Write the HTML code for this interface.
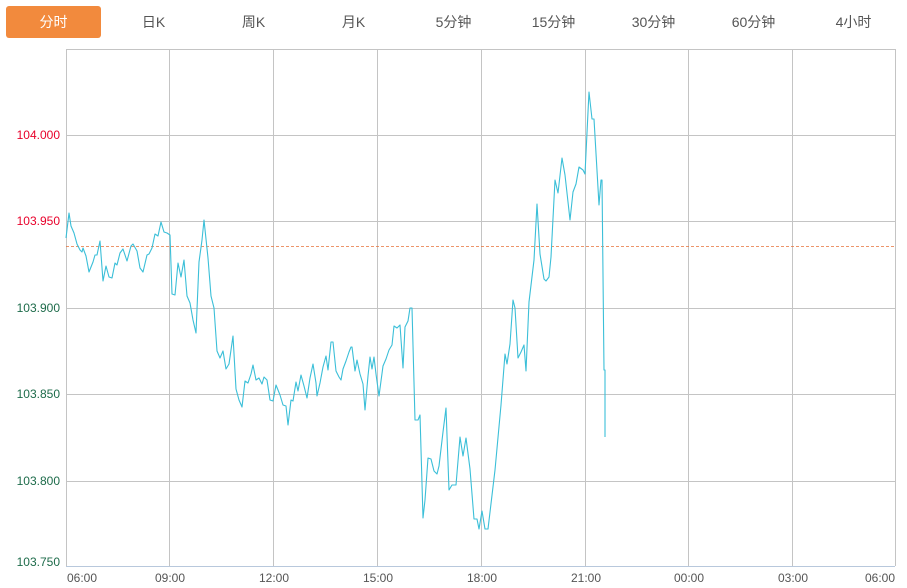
<!DOCTYPE html>
<html><head><meta charset="utf-8"><style>
body{margin:0;background:#fff;width:907px;height:588px;overflow:hidden;font-family:"Liberation Sans","Noto Sans CJK SC",sans-serif}
.tab{position:absolute;top:6px;height:32px;line-height:32px;font-size:14px;color:#555;text-align:center;width:95px}
</style></head><body>
<div class="tab" style="left:6px;background:#f28a3d;color:#fff;border-radius:3px;">分时</div>
<div class="tab" style="left:106px">日K</div>
<div class="tab" style="left:206px">周K</div>
<div class="tab" style="left:306px">月K</div>
<div class="tab" style="left:406px">5分钟</div>
<div class="tab" style="left:506px">15分钟</div>
<div class="tab" style="left:606px">30分钟</div>
<div class="tab" style="left:706px">60分钟</div>
<div class="tab" style="left:806px">4小时</div>
<svg width="907" height="588" style="position:absolute;left:0;top:0" font-family="Liberation Sans, sans-serif" font-size="12">
<g stroke="#c4c4c4" stroke-width="1" fill="none">
<line x1="66.5" y1="49.5" x2="895.5" y2="49.5"/>
<line x1="66" y1="135.5" x2="895" y2="135.5"/>
<line x1="66" y1="221.5" x2="895" y2="221.5"/>
<line x1="66" y1="308.5" x2="895" y2="308.5"/>
<line x1="66" y1="394.5" x2="895" y2="394.5"/>
<line x1="66" y1="481.5" x2="895" y2="481.5"/>
<line x1="66.5" y1="49" x2="66.5" y2="566"/>
<line x1="169.5" y1="49" x2="169.5" y2="566"/>
<line x1="273.5" y1="49" x2="273.5" y2="566"/>
<line x1="377.5" y1="49" x2="377.5" y2="566"/>
<line x1="481.5" y1="49" x2="481.5" y2="566"/>
<line x1="585.5" y1="49" x2="585.5" y2="566"/>
<line x1="688.5" y1="49" x2="688.5" y2="566"/>
<line x1="792.5" y1="49" x2="792.5" y2="566"/>
<line x1="895.5" y1="49" x2="895.5" y2="566"/>
</g>
<line x1="66" y1="566.5" x2="895" y2="566.5" stroke="#b8c8dc"/>
<line x1="66" y1="246.5" x2="895" y2="246.5" stroke="#e8733a" stroke-width="0.8" stroke-dasharray="3,2"/>
<g text-anchor="end" fill="#1d6b4a">
<text x="60" y="139" fill="#e8002a">104.000</text>
<text x="60" y="225" fill="#e8002a">103.950</text>
<text x="60" y="312">103.900</text>
<text x="60" y="398">103.850</text>
<text x="60" y="485">103.800</text>
<text x="60" y="566">103.750</text>
</g>
<g text-anchor="middle" fill="#555">
<text x="82" y="582">06:00</text>
<text x="170" y="582">09:00</text>
<text x="274" y="582">12:00</text>
<text x="378" y="582">15:00</text>
<text x="482" y="582">18:00</text>
<text x="586" y="582">21:00</text>
<text x="689" y="582">00:00</text>
<text x="793" y="582">03:00</text>
<text x="880" y="582">06:00</text>
</g>
<polyline fill="none" stroke="#3bbfd8" stroke-width="1.1" stroke-linejoin="round" points="66,238 69,213 71,226 74,233 77,244 80,250 82,252 83,248 86,256 89,272 93,262 95,255 97,255 100,241 103,281 106,266 109,277 112,278 115,263 117,265 120,253 123,249 127,261 131,246 133,244 137,251 140,268 143,272 147,255 149,254 152,248 155,234 158,236 161,222 164,232 167,233 170,235 172,294 175,295 178,263 181,277 184,260 187,296 190,303 193,320 196,333 199,262 202,240 204,220 208,258 211,296 214,308 217,351 220,358 223,351 226,369 229,364 233,336 236,389 239,400 242,407 245,381 248,383 251,374 253,365 256,380 259,378 262,384 264,377 267,380 270,400 273,401 276,385 280,395 283,405 286,406 288,425 291,400 293,401 296,382 298,391 301,375 304,386 307,398 310,378 313,364 316,383 317,396 320,383 323,367 326,356 328,370 331,342 333,342 336,371 339,377 341,380 343,369 346,361 349,352 351,347 352,347 355,371 357,360 360,374 363,384 365,410 368,376 370,357 372,369 374,357 376,374 379,396 383,366 386,359 389,350 392,345 394,326 397,328 400,325 403,368 405,327 408,321 410,308 412,308 415,420 418,420 420,415 423,518 425,500 428,458 431,459 434,471 437,474 439,466 443,432 446,408 449,490 452,485 454,485 456,485 460,437 463,456 466,438 470,469 474,519 477,519 479,529 482,511 485,529 488,529 495,470 501,405 505,354 507,364 510,344 513,300 515,308 518,358 521,352 524,345 526,371 529,302 534,260 537,204 540,254 544,279 546,281 549,277 551,257 555,180 558,193 562,158 565,175 570,220 573,192 576,184 579,167 583,170 585,174 588,112 589,92 592,119 594,119 599,205 601,180 602,180 604,370 605,370 605,437"/>
</svg>
</body></html>
